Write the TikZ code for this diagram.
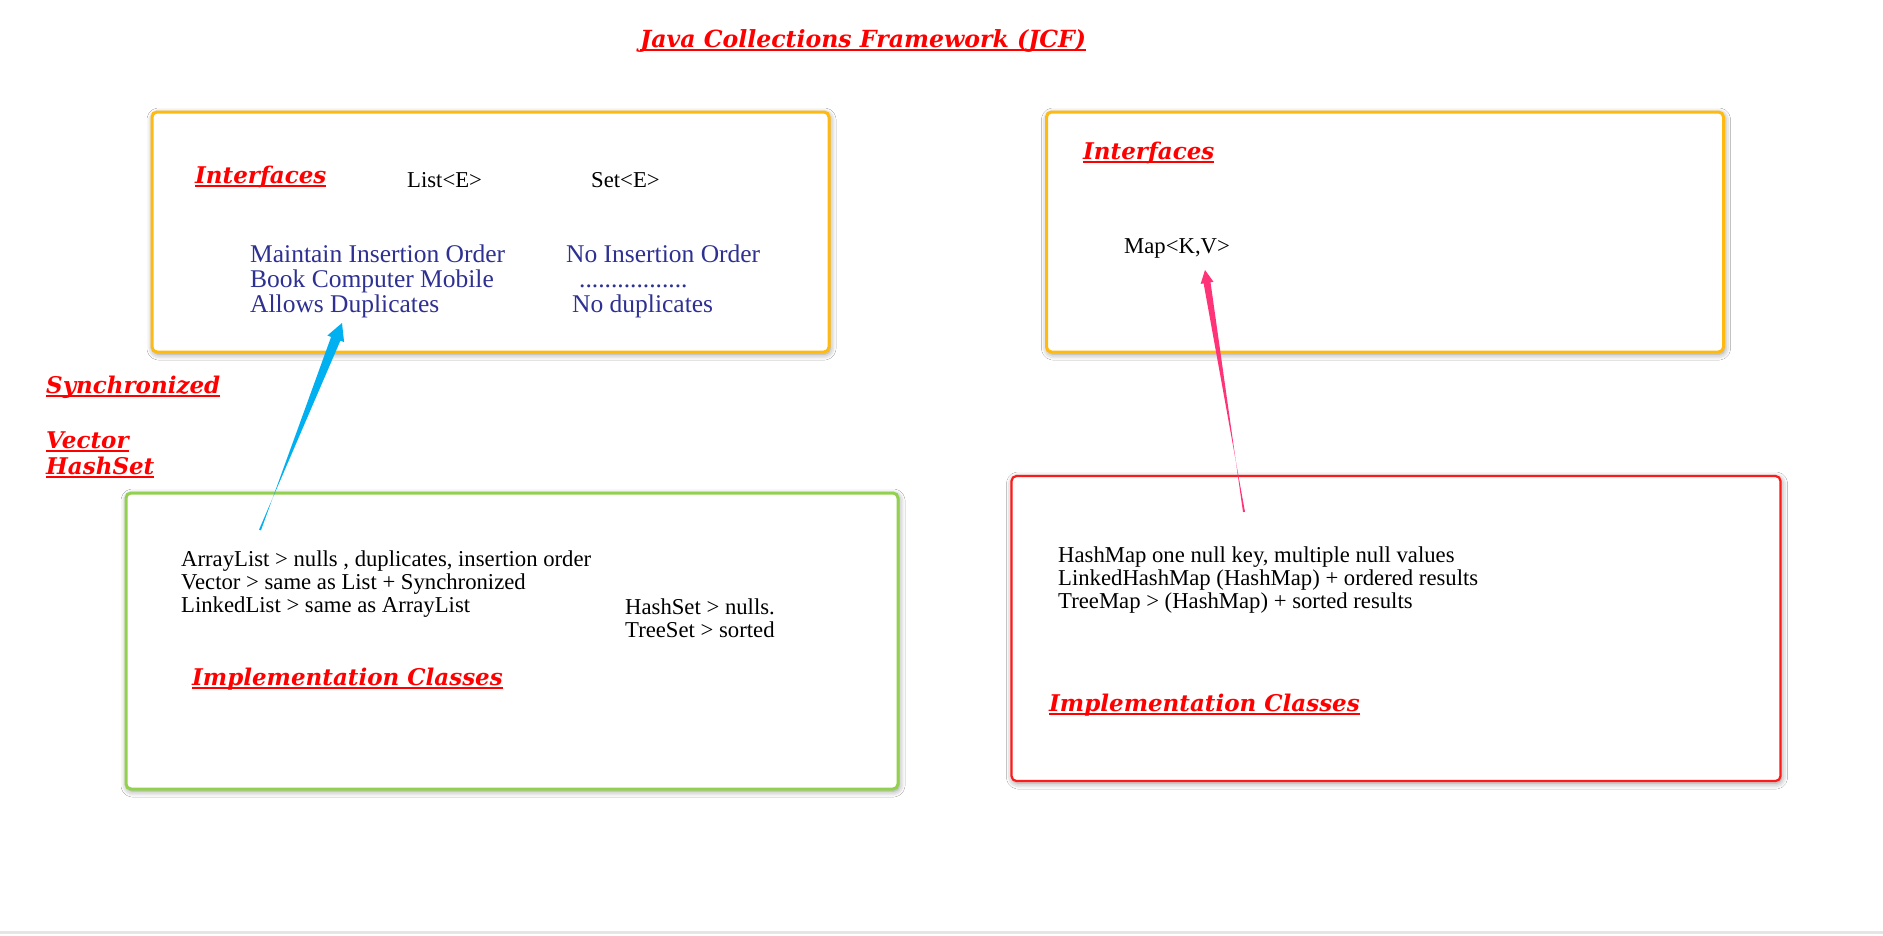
\documentclass[tikz,border=0pt]{standalone}
\usepackage{fontspec}
\setmainfont{Liberation Serif}
\newfontfamily\headfont{DejaVu Serif}
\usetikzlibrary{calc,shadows.blur}

\newcommand{\hdline}[1]{\setbox0\hbox{#1}\rlap{\rule[-4pt]{\wd0}{1.6pt}}\box0}

\definecolor{jcfred}{HTML}{FF0000}
\definecolor{navytext}{RGB}{46,49,146}
\definecolor{boxorange}{HTML}{FFBA12}
\definecolor{boxgreen}{HTML}{92D050}
\definecolor{boxred}{HTML}{FF1A1A}
\definecolor{arrowblue}{HTML}{00B0F0}
\definecolor{arrowpink}{HTML}{FF3377}

\tikzset{
  box/.style={draw,line width=3pt,rounded corners=5pt,inner sep=0pt,fill=white,
    blur shadow={shadow xshift=1pt,shadow yshift=-2pt,shadow blur radius=6pt,shadow opacity=45}},
  heading/.style={anchor=base west,inner sep=0pt,text=jcfred,align=left,
    font=\headfont\bfseries\itshape\fontsize{23}{26}\selectfont},
  plain/.style={anchor=base west,inner sep=0pt,align=left,
    font=\fontsize{22.7}{22.8}\selectfont},
  bluetext/.style={anchor=base west,inner sep=0pt,align=left,text=navytext,
    font=\fontsize{25.5}{25}\selectfont}
}

\begin{document}
\begin{tikzpicture}[x=1pt,y=-1pt]
\fill[white] (0,0) rectangle (1883,935);
\useasboundingbox (0,0) rectangle (1883,935);
\draw[gray!20,line width=3pt] (0,932) -- (1883,932);

% boxes
\node[box,draw=boxorange,minimum width=677pt,minimum height=240pt] (listBox) at (490.5,232) {};
\node[box,draw=boxorange,minimum width=677pt,minimum height=240pt] (mapBox) at (1385,232) {};
\node[box,draw=boxgreen,minimum width=772pt,minimum height=296pt] (implBox) at (512,641) {};
\node[box,draw=boxred,line width=2.2pt,minimum width=769pt,minimum height=305pt] (mapImplBox) at (1396,628.5) {};

% title
\node[heading,font=\headfont\bfseries\itshape\fontsize{23.6}{26}\selectfont] (title) at (640,47) {\hdline{Java Collections Framework (JCF)}};

% list / set interfaces
\node[heading] (listIface) at (195,183) {\hdline{Interfaces}};
\node[plain] (listE) at (407,187) {List<E>};
\node[plain] (setE) at (591,187) {Set<E>};
% multi-line nodes sit on their last line
\node[bluetext] (listProps) at (250,312) {Maintain Insertion Order\\Book Computer Mobile\\Allows Duplicates};
\node[bluetext] (setProps) at (566,312) {No Insertion Order\\\hspace*{13pt}.................\\\hspace*{6pt}No duplicates};

% side notes
\node[heading] (syncNote) at (46,393) {\hdline{Synchronized}};
\node[heading] (syncVector) at (46,448) {\hdline{Vector}};
\node[heading] (syncHashSet) at (46,474) {\hdline{HashSet}};

% list / set implementations
\node[plain] (listImpl) at (181,612) {ArrayList > nulls , duplicates, insertion order\\Vector > same as List + Synchronized\\LinkedList > same as ArrayList};
\node[plain] (setImpl) at (625,637) {HashSet > nulls.\\TreeSet > sorted};
\node[heading] (implLabel) at (192,685) {\hdline{Implementation Classes}};

% map
\node[heading] (mapIface) at (1083,159) {\hdline{Interfaces}};
\node[plain] (mapKV) at (1124,253) {Map<K,V>};
\node[plain] (mapImpl) at (1058,608) {HashMap one null key, multiple null values\\LinkedHashMap (HashMap) + ordered results\\TreeMap > (HashMap) + sorted results};
\node[heading] (mapImplLabel) at (1049,711) {\hdline{Implementation Classes}};

% arrows
\coordinate (blueTail) at (260,530);
\coordinate (blueTip) at (342,323);
\coordinate (blueBase) at ($(blueTip)!17pt!(blueTail)$);
\fill[arrowblue] ($(blueTail)!1pt!90:(blueTip)$) -- ($(blueBase)!5pt!-90:(blueTip)$)
  -- ($(blueBase)!9pt!-90:(blueTip)$) -- (blueTip) -- ($(blueBase)!9pt!90:(blueTip)$)
  -- ($(blueBase)!5pt!90:(blueTip)$) -- ($(blueTail)!1pt!-90:(blueTip)$) -- cycle;

\coordinate (pinkTail) at (1244,512);
\coordinate (pinkTip) at (1205,270);
\coordinate (pinkBase) at ($(pinkTip)!13pt!(pinkTail)$);
\fill[arrowpink] ($(pinkTail)!1pt!90:(pinkTip)$) -- ($(pinkBase)!3.5pt!-90:(pinkTip)$)
  -- ($(pinkBase)!6.5pt!-90:(pinkTip)$) -- (pinkTip) -- ($(pinkBase)!6.5pt!90:(pinkTip)$)
  -- ($(pinkBase)!3.5pt!90:(pinkTip)$) -- ($(pinkTail)!1pt!-90:(pinkTip)$) -- cycle;
\end{tikzpicture}
\end{document}
